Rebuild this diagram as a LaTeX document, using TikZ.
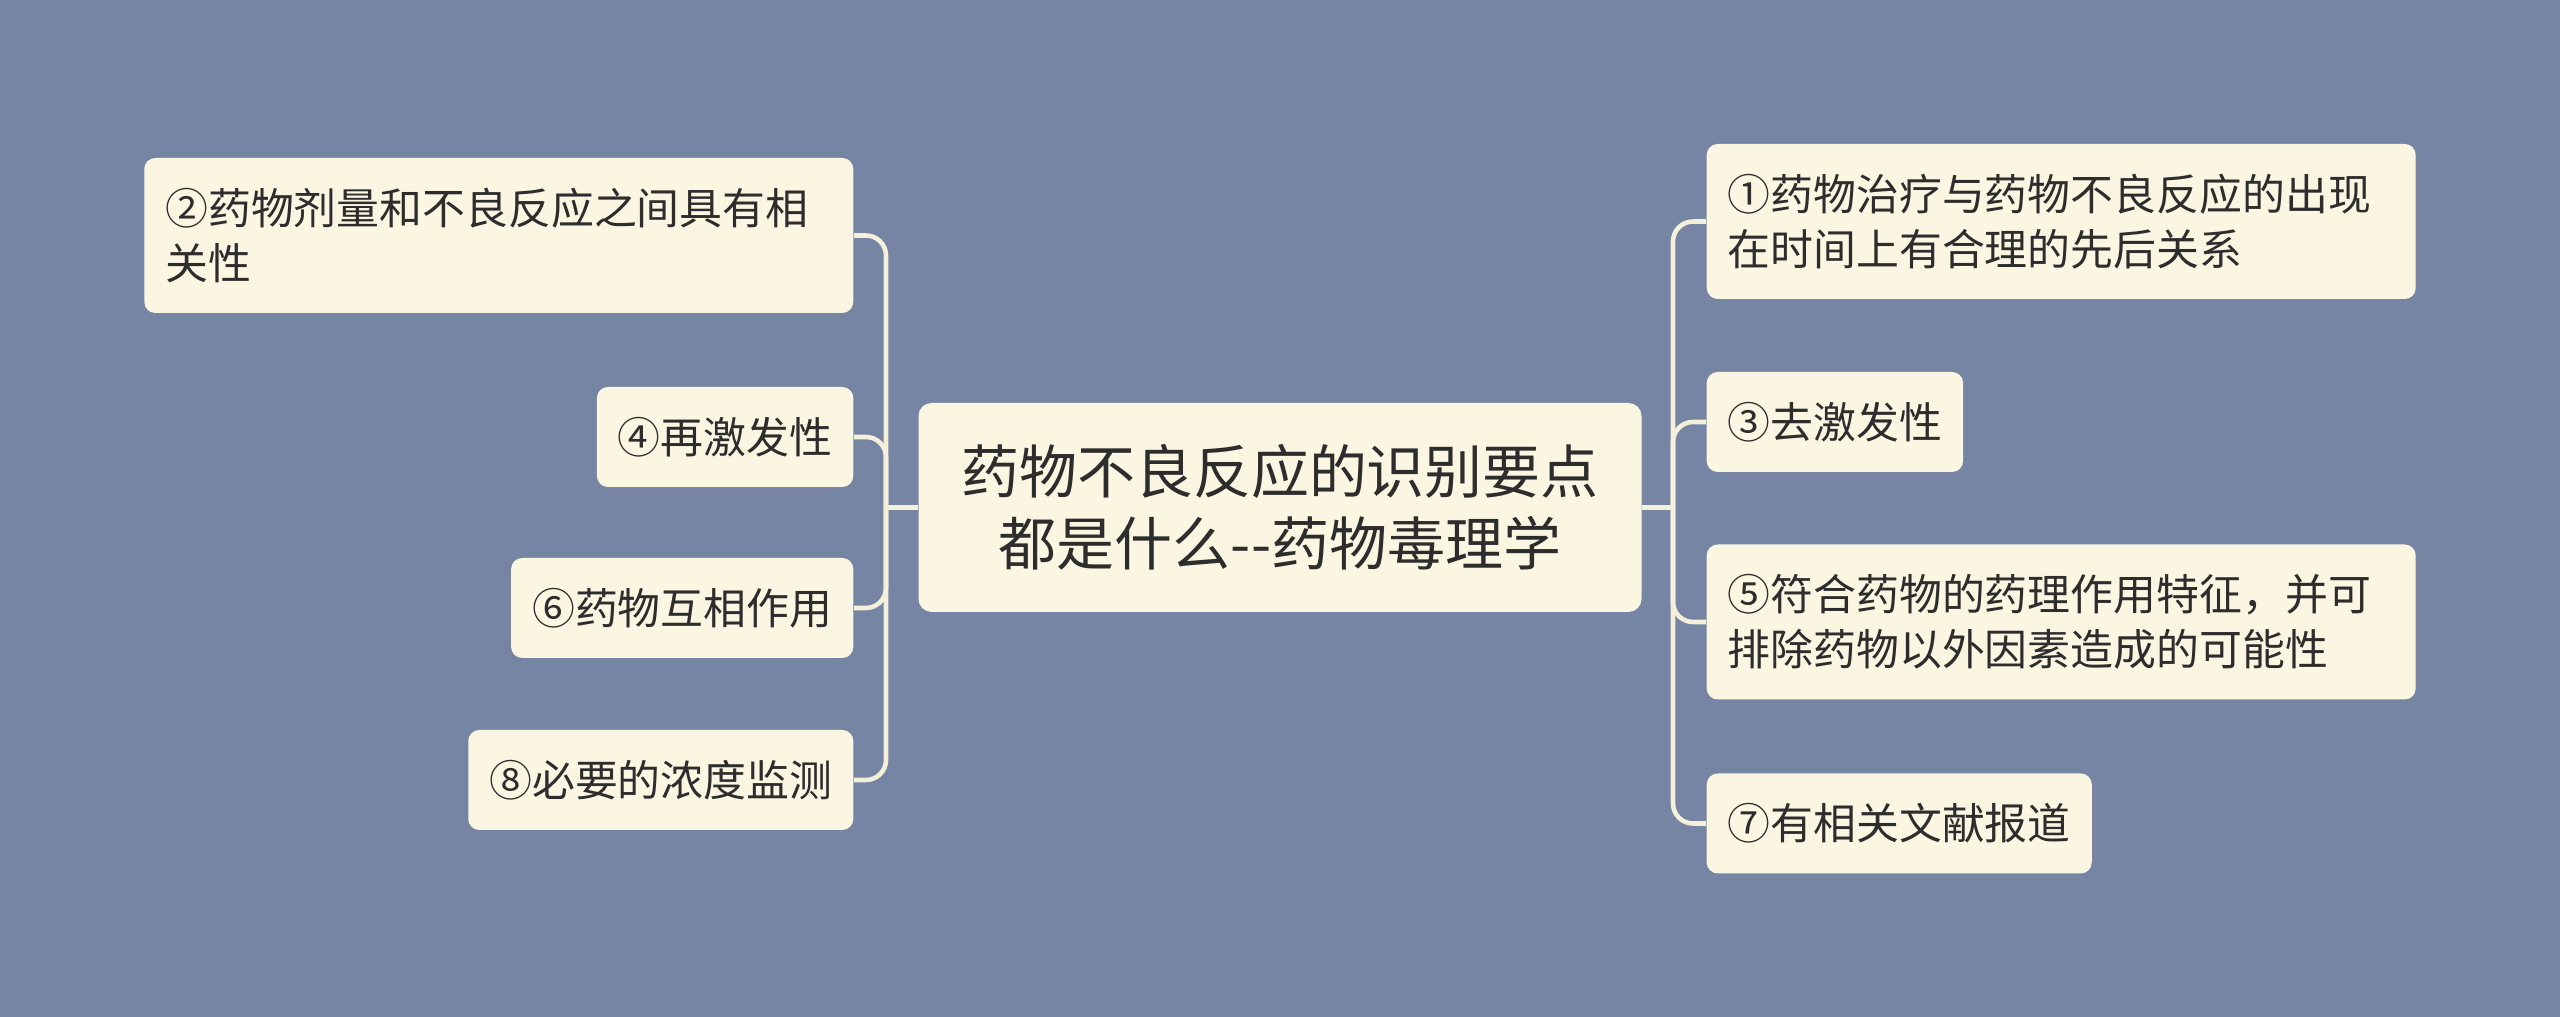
\documentclass[tikz,border=0pt]{standalone}
\usepackage{fontspec}
\usepackage{xcolor}
\newfontfamily\cjk{Noto Sans CJK SC}
\definecolor{bgblue}{RGB}{119,133,164}
\definecolor{boxcream}{RGB}{250,246,225}
\definecolor{linecream}{RGB}{244,240,218}
\definecolor{inkgray}{RGB}{45,45,45}

\begin{document}
\begin{tikzpicture}
    \tikzstyle{rootbox} = [rectangle, rounded corners=0.13cm, fill=boxcream, text=inkgray, inner sep=0pt, minimum width=7.23cm, minimum height=2.09cm, align=center, font=\cjk\fontsize{16.5pt}{20.5pt}\selectfont]
    \tikzstyle{leafbox} = [rectangle, rounded corners=0.11cm, fill=boxcream, text=inkgray, inner xsep=0.21cm, inner ysep=0pt, minimum height=1.0cm, font=\cjk\fontsize{12.2pt}{15.6pt}\selectfont]
    \tikzstyle{longbox} = [leafbox, text width=6.67cm, minimum height=1.55cm, align=left]
    \tikzstyle{link} = [draw=linecream, line width=1.3pt, rounded corners=0.2cm]

    % Background
    \fill[bgblue] (0,0) rectangle (25.6,10.17);
    \useasboundingbox (0,0) rectangle (25.6,10.17);

    % Root
    \node[rootbox] (root) at (12.80,5.095) {药物不良反应的识别要点\\都是什么--药物毒理学};

    % Left branch
    \node[longbox, anchor=east] (n2) at (8.54,7.815) {②药物剂量和不良反应之间具有相\\关性};
    \node[leafbox, anchor=east] (n4) at (8.54,5.80) {④再激发性};
    \node[leafbox, anchor=east] (n6) at (8.54,4.09) {⑥药物互相作用};
    \node[leafbox, anchor=east] (n8) at (8.54,2.37) {⑧必要的浓度监测};

    % Right branch
    \node[longbox, anchor=west] (n1) at (17.06,7.955) {①药物治疗与药物不良反应的出现\\在时间上有合理的先后关系};
    \node[leafbox, anchor=west] (n3) at (17.06,5.95) {③去激发性};
    \node[longbox, anchor=west] (n5) at (17.06,3.95) {⑤符合药物的药理作用特征，并可\\排除药物以外因素造成的可能性};
    \node[leafbox, anchor=west] (n7) at (17.06,1.935) {⑦有相关文献报道};

    % Junctions
    \coordinate (ljoin) at (8.86,5.095);
    \coordinate (rjoin) at (16.73,5.095);

    % Connectors
    \draw[link] (root.west) -- (ljoin);
    \draw[link] (root.east) -- (rjoin);
    \foreach \leaf in {n2,n4,n6,n8} \draw[link] (ljoin) |- (\leaf.east);
    \foreach \leaf in {n1,n3,n5,n7} \draw[link] (rjoin) |- (\leaf.west);
\end{tikzpicture}
\end{document}
